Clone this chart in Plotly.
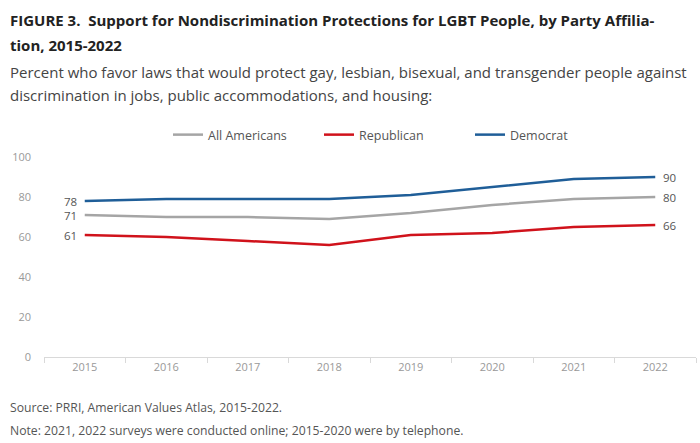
import plotly.graph_objects as go

years = ["2015", "2016", "2017", "2018", "2019", "2020", "2021", "2022"]
all_americans = [71, 70, 70, 69, 72, 76, 79, 80]
republican = [61, 60, 58, 56, 61, 62, 65, 66]
democrat = [78, 79, 79, 79, 81, 85, 89, 90]

series = [
    ("All Americans", all_americans, "#a5a5a5"),
    ("Republican", republican, "#d0121b"),
    ("Democrat", democrat, "#1f5e98"),
]

W, H = 700, 443
L, R, T, B = 44, 4, 157, 86
pw, ph = W - L - R, H - T - B

def px(x):
    return (x - L) / pw

def py(y):
    return (H - B - y) / ph

fig = go.Figure()
annotations = []
last = len(years) - 1
for name, vals, col in series:
    fig.add_trace(go.Scatter(
        x=years, y=vals, name=name, mode="lines",
        line=dict(color=col, width=2.5),
        hoverinfo="skip",
    ))
    annotations.append(dict(x=0, y=vals[0], xref="x", yref="y", text=str(vals[0]),
                            xanchor="right", yanchor="middle", xshift=-6, showarrow=False,
                            font=dict(family="Open Sans", size=11.5, color="#555555")))
    annotations.append(dict(x=last, y=vals[-1], xref="x", yref="y", text=str(vals[-1]),
                            xanchor="left", yanchor="middle", xshift=6, showarrow=False,
                            font=dict(family="Open Sans", size=11.5, color="#555555")))

anns = [
    dict(text="<b>FIGURE 3.  Support for Nondiscrimination Protections for LGBT People, by Party Affilia-</b>",
         x=px(8), y=py(20), size=15.0, color="#222222"),
    dict(text="<b>tion, 2015-2022</b>", x=px(8), y=py(45), size=15.0, color="#222222"),
    dict(text="Percent who favor laws that would protect gay, lesbian, bisexual, and transgender people against",
         x=px(8), y=py(72), size=15.0, color="#444444"),
    dict(text="discrimination in jobs, public accommodations, and housing:",
         x=px(8), y=py(95), size=15.0, color="#444444"),
    dict(text="Source: PRRI, American Values Atlas, 2015-2022.", x=px(8), y=py(407), size=12.2, color="#555555"),
    dict(text="Note: 2021, 2022 surveys were conducted online; 2015-2020 were by telephone.",
         x=px(8), y=py(430), size=12.2, color="#555555"),
]
annotations += [
    dict(text=a["text"], x=a["x"], y=a["y"], xref="paper", yref="paper",
         xanchor="left", yanchor="middle", showarrow=False,
         font=dict(family="Open Sans", size=a["size"], color=a["color"]))
    for a in anns
]

fig.update_layout(
    width=W, height=H,
    margin=dict(l=L, r=R, t=T, b=B, autoexpand=False),
    paper_bgcolor="white", plot_bgcolor="white",
    showlegend=True,
    legend=dict(orientation="h", x=px(168), xanchor="left", y=py(135), yanchor="middle",
                font=dict(family="Open Sans", size=12.5, color="#555555"),
                itemwidth=30, tracegroupgap=0, entrywidthmode="pixels", entrywidth=106),
    annotations=annotations,
    xaxis=dict(type="category", range=[-0.5, 7.5], showgrid=False,
               showline=True, linecolor="#d9d9d9", linewidth=1,
               ticks="outside", ticklen=5, tickcolor="#d9d9d9", tickson="boundaries",
               tickfont=dict(family="Open Sans", size=11, color="#999999"),
               fixedrange=True),
    yaxis=dict(range=[0, 100], tickvals=[0, 20, 40, 60, 80, 100], showgrid=False,
               zeroline=False, showline=False, ticks="",
               tickfont=dict(family="Open Sans", size=11, color="#999999"),
               ticklabelstandoff=12, fixedrange=True),
)

fig.write_html("out.html", config={"displayModeBar": False},
               post_script="document.body.style.margin='0';")
